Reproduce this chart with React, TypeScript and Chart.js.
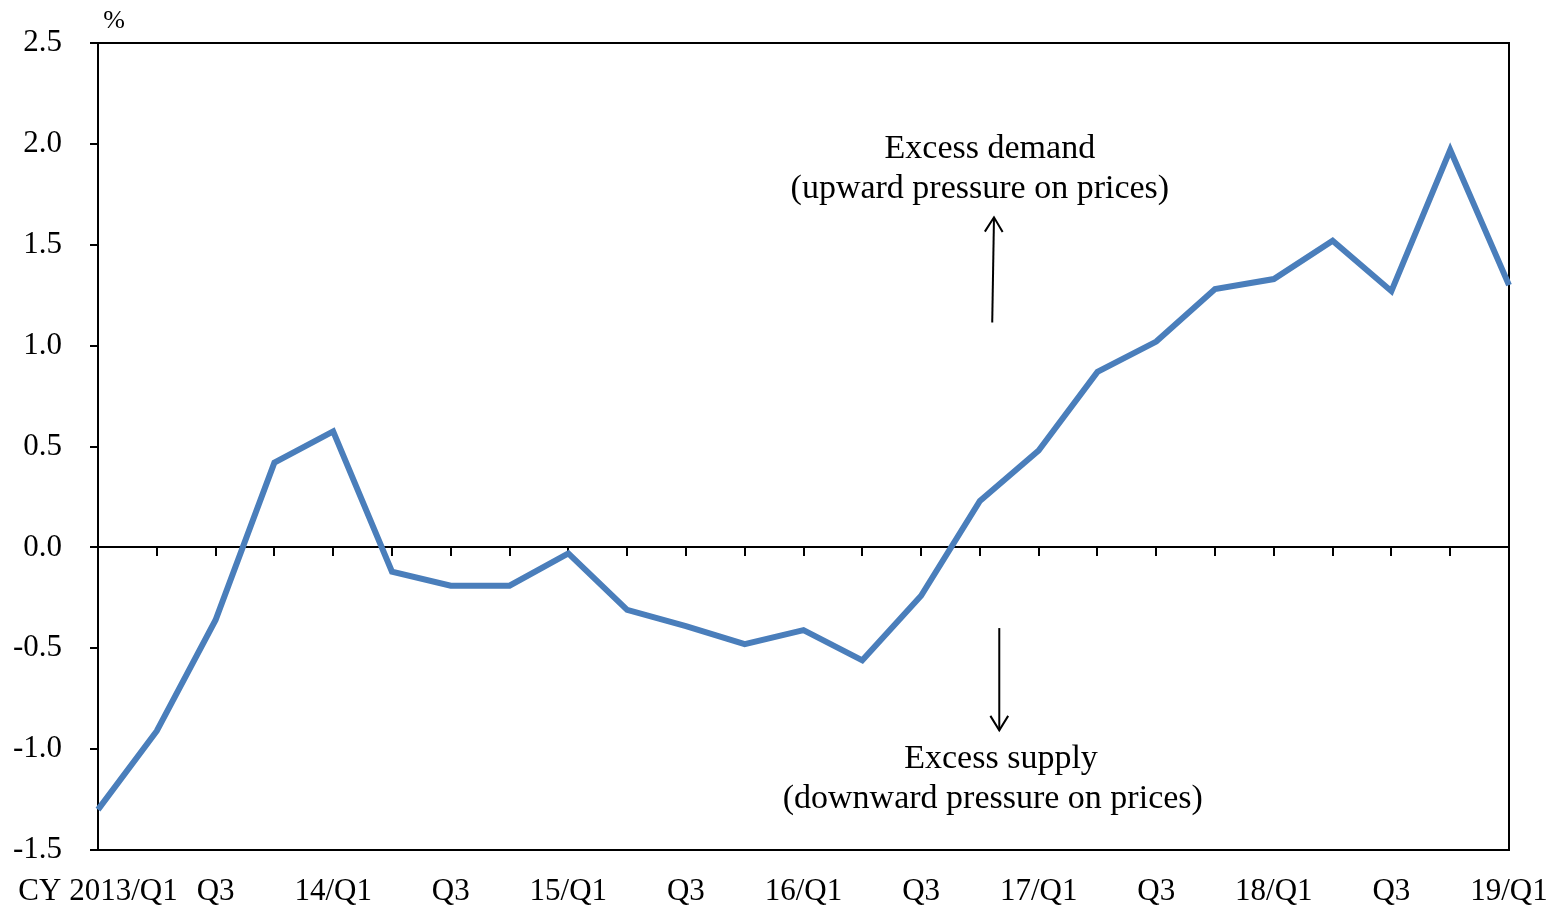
import React, { useEffect, useRef } from "react";
import { Chart, registerables } from "chart.js";

Chart.register(...registerables);

// Quarters CY2013/Q1 .. CY2019/Q1
const categories = [
  "2013Q1", "2013Q2", "2013Q3", "2013Q4",
  "2014Q1", "2014Q2", "2014Q3", "2014Q4",
  "2015Q1", "2015Q2", "2015Q3", "2015Q4",
  "2016Q1", "2016Q2", "2016Q3", "2016Q4",
  "2017Q1", "2017Q2", "2017Q3", "2017Q4",
  "2018Q1", "2018Q2", "2018Q3", "2018Q4",
  "2019Q1",
];

const tickLabels = [
  "CY 2013/Q1", "", "Q3", "",
  "14/Q1", "", "Q3", "",
  "15/Q1", "", "Q3", "",
  "16/Q1", "", "Q3", "",
  "17/Q1", "", "Q3", "",
  "18/Q1", "", "Q3", "",
  "19/Q1",
];

const gapValues = [
  -1.30, -0.91, -0.36, 0.42,
  0.575, -0.12, -0.19, -0.19,
  -0.03, -0.31, -0.39, -0.48,
  -0.41, -0.56, -0.24, 0.23,
  0.48, 0.87, 1.02, 1.28,
  1.33, 1.52, 1.27, 1.97,
  1.30,
];

const yMin = -1.5;
const yMax = 2.5;
const yStep = 0.5;

const unitLabel = "%";

// annotation texts placed in data coordinates (category index, value)
const annotationTexts = [
  { text: "Excess demand", xi: 15.17, yv: 1.973 },
  { text: "(upward pressure on prices)", xi: 15.0, yv: 1.774 },
  { text: "Excess supply", xi: 15.36, yv: -1.051 },
  { text: "(downward pressure on prices)", xi: 15.22, yv: -1.249 },
];

const annotationArrows = [
  { x0: 15.21, y0: 1.115, x1: 15.24, y1: 1.636 },
  { x0: 15.33, y0: -0.40, x1: 15.33, y1: -0.907 },
];

const SERIF = '"Liberation Serif", "Times New Roman", serif';

const annotationPlugin = {
  id: "annotations",
  afterDatasetsDraw(chart: any) {
    const { ctx, scales } = chart;
    const x = scales.x;
    const y = scales.y;
    ctx.save();
    ctx.fillStyle = "#000";
    ctx.strokeStyle = "#000";
    ctx.font = `34px ${SERIF}`;
    ctx.textAlign = "center";
    ctx.textBaseline = "middle";
    for (const t of annotationTexts) {
      ctx.fillText(t.text, x.getPixelForValue(t.xi), y.getPixelForValue(t.yv));
    }
    ctx.lineWidth = 2;
    for (const a of annotationArrows) {
      const px0 = x.getPixelForValue(a.x0);
      const py0 = y.getPixelForValue(a.y0);
      const px1 = x.getPixelForValue(a.x1);
      const py1 = y.getPixelForValue(a.y1);
      ctx.beginPath();
      ctx.moveTo(px0, py0);
      ctx.lineTo(px1, py1);
      ctx.stroke();
      const ang = Math.atan2(py1 - py0, px1 - px0);
      const len = 17;
      const spread = 0.55;
      ctx.beginPath();
      ctx.moveTo(px1 - len * Math.cos(ang - spread), py1 - len * Math.sin(ang - spread));
      ctx.lineTo(px1, py1);
      ctx.lineTo(px1 - len * Math.cos(ang + spread), py1 - len * Math.sin(ang + spread));
      ctx.stroke();
    }
    // unit label above the y axis
    ctx.font = `26px ${SERIF}`;
    ctx.textAlign = "center";
    ctx.fillText(unitLabel, chart.chartArea.left + 16, chart.chartArea.top - 22);
    ctx.restore();
  },
};

export default function App() {
  const canvasRef = useRef<HTMLCanvasElement | null>(null);

  useEffect(() => {
    if (!canvasRef.current) return;
    const tickFont = { family: SERIF, size: 31 };
    const chart = new Chart(canvasRef.current, {
      type: "line",
      data: {
        labels: categories,
        datasets: [
          {
            data: gapValues,
            borderColor: "#4a7ebb",
            backgroundColor: "#4a7ebb",
            borderWidth: 6,
            pointRadius: 0,
            tension: 0,
            fill: false,
            borderJoinStyle: "miter",
          },
        ],
      },
      options: {
        animation: false,
        responsive: false,
        maintainAspectRatio: false,
        layout: { padding: 0 },
        plugins: {
          legend: { display: false },
          tooltip: { enabled: false },
          title: { display: false },
        },
        scales: {
          x: {
            type: "category",
            position: "bottom",
            offset: false,
            grid: { display: false },
            border: { display: true, color: "#000", width: 2 },
            ticks: {
              autoSkip: false,
              maxRotation: 0,
              minRotation: 0,
              padding: 15,
              color: "#000",
              font: tickFont,
              callback: (_v: any, i: number) => tickLabels[i],
            },
            afterFit: (s: any) => {
              s.height = 58;
              s.paddingLeft = 0;
              s.paddingRight = 0;
            },
          },
          xTop: {
            type: "category",
            axis: "x",
            position: "top",
            offset: false,
            grid: { display: false },
            border: { display: true, color: "#000", width: 2 },
            ticks: { display: false },
            afterFit: (s: any) => {
              s.height = 43;
              s.paddingLeft = 0;
              s.paddingRight = 0;
            },
          },
          xZero: {
            type: "category",
            axis: "x",
            position: { y: 0 },
            offset: false,
            grid: {
              display: true,
              drawOnChartArea: false,
              drawTicks: true,
              tickLength: 8,
              color: "#000",
              lineWidth: 2,
            },
            border: { display: true, color: "#000", width: 2 },
            ticks: { display: false },
          },
          y: {
            type: "linear",
            position: "left",
            min: yMin,
            max: yMax,
            grid: {
              display: true,
              drawOnChartArea: false,
              drawTicks: true,
              tickLength: 8,
              color: "#000",
              lineWidth: 2,
            },
            border: { display: true, color: "#000", width: 2 },
            ticks: {
              stepSize: yStep,
              padding: 28,
              color: "#000",
              font: tickFont,
              callback: (v: any) => Number(v).toFixed(1),
            },
            afterFit: (s: any) => {
              s.width = 98;
              s.paddingTop = 0;
              s.paddingBottom = 0;
            },
          },
          yRight: {
            type: "linear",
            position: "right",
            min: yMin,
            max: yMax,
            grid: { display: false },
            border: { display: true, color: "#000", width: 2 },
            ticks: { display: false },
            afterFit: (s: any) => {
              s.width = 45;
              s.paddingTop = 0;
              s.paddingBottom = 0;
            },
          },
        },
      },
      plugins: [annotationPlugin],
    } as any);
    return () => chart.destroy();
  }, []);

  return (
    <div style={{ position: "absolute", left: 0, top: 0, width: 1554, height: 908, background: "#fff" }}>
      <canvas ref={canvasRef} width={1554} height={908} />
    </div>
  );
}
